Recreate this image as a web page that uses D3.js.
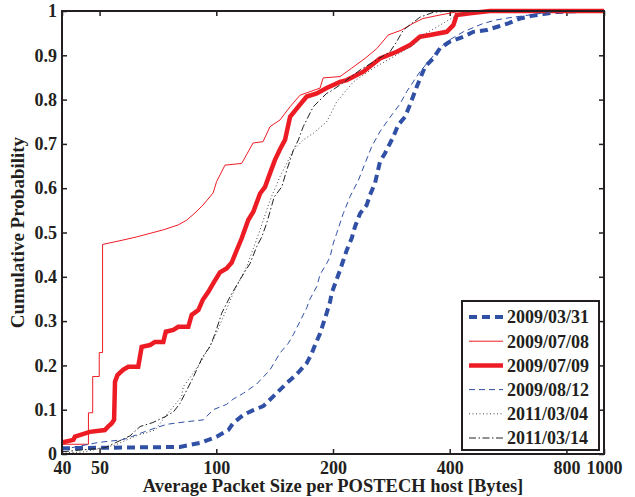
<!DOCTYPE html>
<html>
<head>
  <meta charset="utf-8">
  <title>Average Packet Size CDF</title>
  <script src="https://d3js.org/d3.v7.min.js"></script>
  <style>
    body { margin: 0; background: #fff; }
    svg text { font-family: "Liberation Serif", "Times New Roman", serif; font-weight: bold; fill: #231f20; }
  </style>
</head>
<body>
  <div id="vis"></div>
  <script>
    // [bytes, cumulative probability]
    const s20090331 = [[40,0.013],[80.6,0.016],[90.8,0.025],[100.2,0.039],[107.4,0.054],[110.6,0.07],[117.4,0.088],[124.6,0.099],[132.2,0.108],[140.3,0.13],[152,0.16],[161.2,0.18],[171.1,0.205],[176.3,0.227],[179.8,0.246],[185.2,0.272],[192.6,0.318],[196.6,0.344],[198.4,0.363],[208.5,0.415],[217,0.46],[223.5,0.487],[227.9,0.513],[234.9,0.543],[244.3,0.562],[249.2,0.585],[256.6,0.611],[264.4,0.66],[272.4,0.679],[286.1,0.716],[294.7,0.743],[306.7,0.761],[315.8,0.788],[328.9,0.829],[345.4,0.874],[362.8,0.893],[377.6,0.916],[400.7,0.931],[433.6,0.942],[460.4,0.953],[498.4,0.957],[534,0.965],[566.4,0.972],[607,0.983],[650.8,0.989],[697,0.993],[755,0.998],[867,1.0],[1000,1.0]]

    const s20090708 = [[40,0.022],[46.8,0.022],[46.8,0.093],[48,0.093],[48,0.175],[49.9,0.175],[49.9,0.229],[50.9,0.229],[50.9,0.473],[57.5,0.483],[62.3,0.49],[73,0.506],[79.7,0.517],[83.9,0.528],[88.1,0.544],[92.4,0.562],[98.1,0.589],[100.2,0.615],[105.3,0.652],[116.3,0.656],[124.4,0.702],[132,0.705],[137.6,0.739],[146,0.754],[155,0.784],[164.5,0.81],[185.2,0.826],[188.6,0.849],[208.5,0.852],[223.5,0.871],[241.9,0.893],[259.3,0.915],[277.8,0.946],[300.6,0.957],[321.5,0.972],[341.2,0.983],[377.6,0.991],[417,0.998],[726,1.0],[1000,1.0]]

    const s20090709 = [[40,0.026],[42.8,0.032],[43.2,0.039],[47.2,0.05],[51.6,0.054],[52.6,0.062],[53.7,0.069],[54.5,0.077],[54.8,0.163],[55.6,0.178],[57.5,0.19],[59.3,0.197],[62.9,0.197],[64.2,0.242],[67.5,0.246],[69.5,0.253],[73,0.253],[74.1,0.276],[77.5,0.28],[79.8,0.287],[84.7,0.287],[86.4,0.314],[89.9,0.325],[92.3,0.348],[95.4,0.366],[98.2,0.385],[102.2,0.41],[106.3,0.419],[109.6,0.432],[112.9,0.46],[116.3,0.487],[120.9,0.528],[124.6,0.547],[129.7,0.588],[133.6,0.603],[137.6,0.634],[141.7,0.664],[146,0.688],[150.4,0.709],[155,0.761],[162.8,0.784],[171.1,0.807],[181.6,0.814],[192.6,0.826],[208.5,0.84],[217,0.844],[239.5,0.863],[264.4,0.893],[292,0.908],[315.8,0.923],[335.2,0.942],[355.8,0.946],[393,0.953],[408.6,0.968],[417,0.991],[451,0.995],[508,1.0],[1000,1.0]]

    const s20090812 = [[40,0.01],[49.6,0.026],[57,0.032],[58.8,0.035],[66.1,0.052],[74.5,0.067],[83.9,0.073],[92.6,0.077],[98.2,0.1],[106.3,0.112],[110.6,0.124],[117.4,0.137],[127.1,0.158],[137.6,0.19],[146,0.228],[153.4,0.25],[158.1,0.27],[164.5,0.3],[171.1,0.33],[174.5,0.35],[181.6,0.378],[185.2,0.405],[192.6,0.43],[196.6,0.445],[200.4,0.476],[204.4,0.498],[212.6,0.543],[221.3,0.581],[232.6,0.618],[241.9,0.656],[251.7,0.694],[264.4,0.728],[280.6,0.76],[297.6,0.79],[309.8,0.818],[335.2,0.863],[370.3,0.908],[393,0.931],[433.6,0.953],[488.4,0.972],[528.9,0.98],[572,0.985],[656,0.992],[711.6,0.997],[801.6,1.0],[1000,1.0]]

    const s20110304 = [[40,0.002],[45.8,0.005],[54.8,0.02],[61.7,0.04],[69.5,0.054],[74.7,0.09],[81.4,0.13],[82.2,0.152],[84.7,0.167],[90.8,0.205],[98.2,0.257],[104.3,0.31],[110.6,0.363],[119.8,0.423],[129.7,0.506],[137.6,0.573],[146,0.626],[158.1,0.686],[167.6,0.709],[177.9,0.724],[192.6,0.75],[196.6,0.765],[204.4,0.795],[225.7,0.84],[254.1,0.871],[292,0.901],[322.2,0.923],[341.9,0.946],[377.6,0.968],[408.6,0.986],[451,0.998],[539,1.0],[1000,1.0]]

    const s20110314 = [[40,0.005],[51.6,0.014],[59.9,0.041],[63.6,0.062],[68.6,0.071],[73.7,0.084],[77.5,0.095],[80.6,0.114],[83.9,0.144],[87.3,0.174],[92.3,0.22],[96.3,0.242],[99.3,0.272],[103.3,0.318],[108.5,0.355],[115,0.393],[122.2,0.43],[127.1,0.468],[131,0.49],[134.9,0.521],[141,0.58],[147.5,0.603],[152,0.641],[158.1,0.686],[162.8,0.709],[167.6,0.739],[177.9,0.784],[192.6,0.814],[196.6,0.818],[208.5,0.833],[234.9,0.867],[280.6,0.908],[292,0.931],[303.6,0.957],[335.2,0.986],[362.8,0.997],[400.7,1.0],[1000,1.0]]

    const seriesNames = ["2009/03/31", "2009/07/08", "2009/07/09", "2009/08/12", "2011/03/04", "2011/03/14"]
    const seriesData = [s20090331, s20090708, s20090709, s20090812, s20110304, s20110314]

    const xTicks = [40, 50, 100, 200, 400, 800, 1000]
    const yTicks = [0, 0.1, 0.2, 0.3, 0.4, 0.5, 0.6, 0.7, 0.8, 0.9, 1]

    const red = "#ed1c24"
    const blue = "#3050a6"
    const styles = [
      { color: blue, width: 4, dash: "8,5" },
      { color: red, width: 1, dash: null },
      { color: red, width: 4.5, dash: null },
      { color: blue, width: 1, dash: "6,4" },
      { color: "#444", width: 1, dash: "1,2.5" },
      { color: "#222", width: 1, dash: "7,2.5,1.5,2.5" }
    ]

    const width = 635
    const height = 497
    const margin = { top: 11, right: 31, bottom: 43, left: 62 }

    const x = d3.scaleLog()
      .domain([40, 1000])
      .range([margin.left, width - margin.right])

    const y = d3.scaleLinear()
      .domain([0, 1])
      .range([height - margin.bottom, margin.top])

    const svg = d3.select("#vis")
      .append("svg")
      .attr("width", width)
      .attr("height", height)

    const fmtY = d => d === 0 || d === 1 ? String(d) : d3.format(".1f")(d)

    // bottom & left axes with ticks pointing inward
    svg.append("g")
      .attr("transform", `translate(0,${height - margin.bottom})`)
      .call(d3.axisBottom(x).tickValues(xTicks).tickFormat(d3.format("d")).tickSizeInner(-5).tickSizeOuter(0).tickPadding(7))
      .call(g => g.select(".domain").remove())
      .call(g => g.selectAll("line").attr("stroke", "#231f20").attr("stroke-width", 1.5))
      .call(g => g.selectAll("text").attr("font-size", 18).attr("font-family", null))

    svg.append("g")
      .attr("transform", `translate(${margin.left},0)`)
      .call(d3.axisLeft(y).tickValues(yTicks).tickFormat(fmtY).tickSizeInner(-5).tickSizeOuter(0).tickPadding(5))
      .call(g => g.select(".domain").remove())
      .call(g => g.selectAll("line").attr("stroke", "#231f20").attr("stroke-width", 1.5))
      .call(g => g.selectAll("text").attr("font-size", 18).attr("font-family", null))

    // top & right ticks (box)
    svg.append("g")
      .attr("transform", `translate(0,${margin.top})`)
      .call(d3.axisTop(x).tickValues(xTicks).tickFormat("").tickSizeInner(-5).tickSizeOuter(0))
      .call(g => g.select(".domain").remove())
      .call(g => g.selectAll("line").attr("stroke", "#231f20").attr("stroke-width", 1.5))

    svg.append("g")
      .attr("transform", `translate(${width - margin.right},0)`)
      .call(d3.axisRight(y).tickValues(yTicks).tickFormat("").tickSizeInner(-5).tickSizeOuter(0))
      .call(g => g.select(".domain").remove())
      .call(g => g.selectAll("line").attr("stroke", "#231f20").attr("stroke-width", 1.5))

    const line = d3.line()
      .x(d => x(d[0]))
      .y(d => y(d[1]))

    svg.append("g")
      .selectAll("path")
      .data(seriesData)
      .join("path")
      .attr("d", line)
      .attr("fill", "none")
      .attr("stroke", (d, i) => styles[i].color)
      .attr("stroke-width", (d, i) => styles[i].width)
      .attr("stroke-dasharray", (d, i) => styles[i].dash)

    // plot frame
    svg.append("rect")
      .attr("x", margin.left)
      .attr("y", margin.top)
      .attr("width", width - margin.left - margin.right)
      .attr("height", height - margin.top - margin.bottom)
      .attr("fill", "none")
      .attr("stroke", "#231f20")
      .attr("stroke-width", 2)

    // legend
    const legend = svg.append("g")
    legend.append("rect")
      .attr("x", 462)
      .attr("y", 301)
      .attr("width", 137)
      .attr("height", 149)
      .attr("fill", "#fff")
      .attr("stroke", "#231f20")
      .attr("stroke-width", 2)

    const item = legend.selectAll("g.item")
      .data(seriesNames)
      .join("g")
      .attr("class", "item")
      .attr("transform", (d, i) => `translate(0,${317 + i * 24.2})`)

    item.append("line")
      .attr("x1", 469)
      .attr("x2", 503)
      .attr("stroke", (d, i) => styles[i].color)
      .attr("stroke-width", (d, i) => styles[i].width)
      .attr("stroke-dasharray", (d, i) => styles[i].dash)

    item.append("text")
      .attr("x", 507)
      .attr("dy", "0.35em")
      .attr("font-size", 18)
      .text(d => d)

    svg.append("text")
      .attr("x", (margin.left + width - margin.right) / 2)
      .attr("y", 492)
      .attr("text-anchor", "middle")
      .attr("font-size", 18.5)
      .text("Average Packet Size per POSTECH host [Bytes]")

    svg.append("text")
      .attr("transform", `translate(24,${(margin.top + height - margin.bottom) / 2}) rotate(-90)`)
      .attr("text-anchor", "middle")
      .attr("font-size", 19)
      .text("Cumulative Probability")
  </script>
</body>
</html>
